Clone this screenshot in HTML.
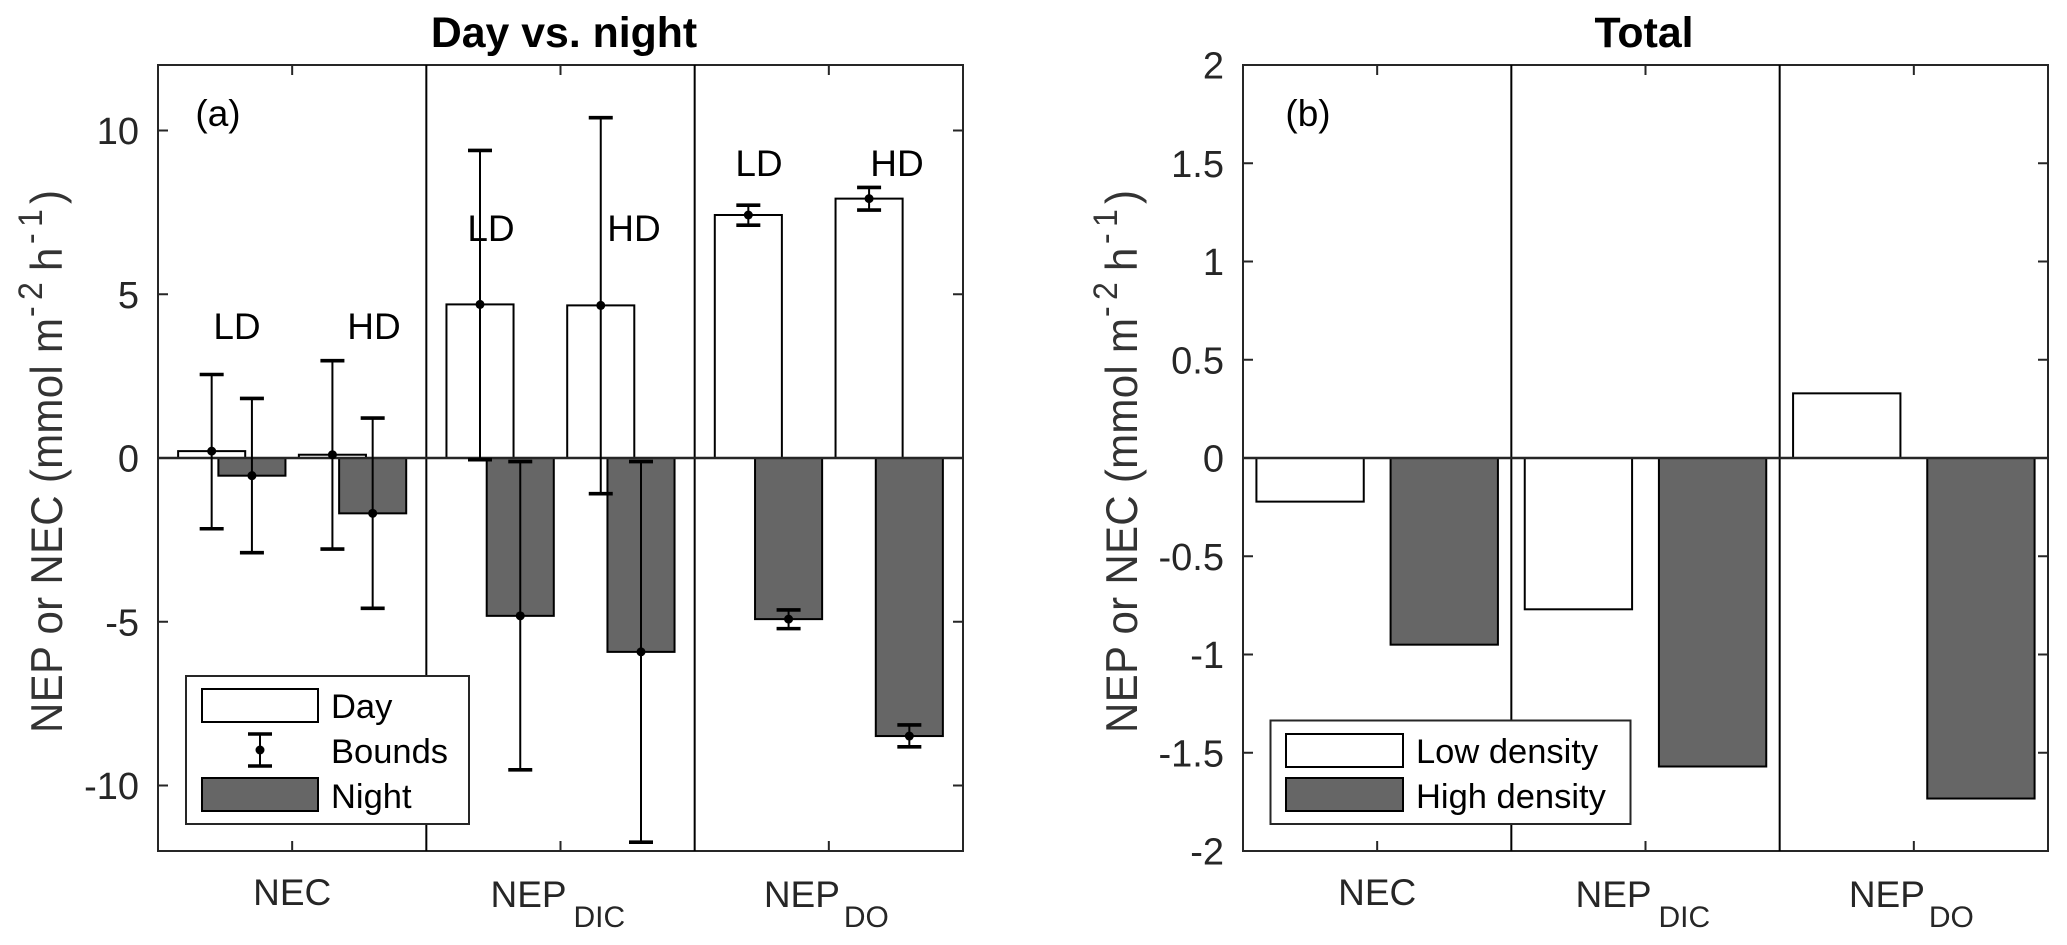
<!DOCTYPE html>
<html lang="en">
<head>
<meta charset="utf-8">
<title>Day vs. night and Total NEP/NEC</title>
<style>
html,body{margin:0;padding:0;background:#fff;width:2067px;height:945px;overflow:hidden}
svg{display:block}
text{font-family:"Liberation Sans",Arial,sans-serif}
</style>
</head>
<body>
<svg id="chart" xmlns="http://www.w3.org/2000/svg" width="2067" height="945" viewBox="0 0 2067 945"></svg>
<script>
// Shared categories
const categories = ["NEC", "NEP", "NEP"];
const categorySubs = ["", "DIC", "DO"];

// Panel (a): day/night bars, LD then HD in each category
const dayValues = [[0.21, 0.10], [4.69, 4.66], [7.42, 7.92]];
const dayUpper = [[2.55, 2.97], [9.39, 10.39], [7.72, 8.26]];
const dayLower = [[-2.16, -2.78], [-0.05, -1.09], [7.11, 7.57]];
const nightValues = [[-0.54, -1.69], [-4.82, -5.92], [-4.92, -8.49]];
const nightUpper = [[1.82, 1.22], [-0.11, -0.11], [-4.64, -8.15]];
const nightLower = [[-2.89, -4.59], [-9.52, -11.73], [-5.21, -8.82]];
const aTicks = [-10, -5, 0, 5, 10];
const aTickLabels = ["-10", "-5", "0", "5", "10"];
const aDomain = [-12, 12];

// Panel (b): totals
const lowDensity = [-0.222, -0.77, 0.329];
const highDensity = [-0.95, -1.57, -1.733];
const bTicks = [-2, -1.5, -1, -0.5, 0, 0.5, 1, 1.5, 2];
const bTickLabels = ["-2", "-1.5", "-1", "-0.5", "0", "0.5", "1", "1.5", "2"];
const bDomain = [-2, 2];

const NS = "http://www.w3.org/2000/svg";
const svg = document.getElementById("chart");
const AXIS = "#262626";

function mk(tag, attrs, parent) {
  const n = document.createElementNS(NS, tag);
  for (const k in attrs) n.setAttribute(k, attrs[k]);
  (parent || svg).appendChild(n);
  return n;
}
function linear(d0, d1, r0, r1) {
  return v => r0 + (v - d0) * (r1 - r0) / (d1 - d0);
}
const TOP = 65, BOTTOM = 851;

function drawAxes(panel, left, right, sy, ticks, labels) {
  const sx = linear(0.5, 3.5, left, right);
  let el;
  // axis frame
  el = mk("rect", {x: left, y: TOP, width: right - left, height: BOTTOM - TOP, fill: "none", stroke: AXIS, "stroke-width": 2});
  
  
  // y ticks and labels
  ticks.forEach((t, i) => {
    const yy = sy(t);
    el = mk("path", {d: `M${left} ${yy}h10M${right} ${yy}h-10`, stroke: AXIS, "stroke-width": 2, fill: "none"});
    
    
    el = mk("text", {x: left - 19, y: yy + 13.5, "text-anchor": "end", "font-size": 38, fill: AXIS});
    el.textContent = labels[i];
    
    
  });
  // x ticks and labels
  categories.forEach((c, i) => {
    const xx = sx(i + 1);
    el = mk("path", {d: `M${xx} ${TOP}v10M${xx} ${BOTTOM}v-10`, stroke: AXIS, "stroke-width": 2, fill: "none"});
    
    
    const sub = categorySubs[i];
    el = mk("text", {x: sub ? xx - (sub === "DIC" ? 70 : 65) : xx, y: sub ? 907 : 905, "text-anchor": sub ? "start" : "middle", "font-size": 37, fill: AXIS});
    el.textContent = c;
    
    
    if (sub) {
      el = mk("text", {x: xx + (sub === "DIC" ? 13 : 15), y: 927, "font-size": 30, fill: AXIS});
      el.textContent = sub;
      
      
    }
  });
  return sx;
}

function drawSeparators(panel, sx, sy) {
  let el;
  [1.5, 2.5].forEach(v => {
    el = mk("line", {x1: sx(v), x2: sx(v), y1: TOP, y2: BOTTOM, stroke: "#000", "stroke-width": 2});
    
    
  });
  el = mk("line", {x1: sx(0.5), x2: sx(3.5), y1: sy(0), y2: sy(0), stroke: AXIS, "stroke-width": 2.4});
  
  
}

function drawBar(name, cx, w, v, sy, fill) {
  const y0 = sy(0), y1 = sy(v);
  const el = mk("rect", {x: cx - w / 2, y: Math.min(y0, y1), width: w, height: Math.abs(y1 - y0), fill: fill, stroke: "#000", "stroke-width": 2});
  
  
}

function drawError(name, cx, up, lo, v, sy) {
  const g = mk("g", {});
  
  
  const capW = 24;
  mk("line", {x1: cx, x2: cx, y1: sy(up), y2: sy(lo), stroke: "#000", "stroke-width": 2}, g);
  mk("line", {x1: cx - capW / 2, x2: cx + capW / 2, y1: sy(up), y2: sy(up), stroke: "#000", "stroke-width": 3.6}, g);
  mk("line", {x1: cx - capW / 2, x2: cx + capW / 2, y1: sy(lo), y2: sy(lo), stroke: "#000", "stroke-width": 3.6}, g);
  mk("circle", {cx: cx, cy: sy(v), r: 4.5, fill: "#000"}, g);
}

function drawYLabel(name, bx) {
  const el = mk("text", {transform: `translate(${bx} 730) rotate(-90) scale(1 1.06)`, "font-size": 42, fill: "#333"});
  
  
  mk("tspan", {x: -3, "letter-spacing": 0.3}, el).textContent = "NEP or NEC (mmol m";
  mk("tspan", {"font-size": 32, x: 413, dy: -19}, el).textContent = "-";
  mk("tspan", {"font-size": 32, x: 430}, el).textContent = "2";
  mk("tspan", {x: 459, dy: 19}, el).textContent = "h";
  mk("tspan", {"font-size": 32, x: 486, dy: -19}, el).textContent = "-";
  mk("tspan", {"font-size": 32, x: 503}, el).textContent = "1";
  mk("tspan", {x: 526, dy: 19}, el).textContent = ")";
}

function drawTitle(name, x, label) {
  const el = mk("text", {x: x, y: 47, "text-anchor": "middle", "font-size": 42.8, "font-weight": "bold", fill: "#000"});
  el.textContent = label;
  
  
}

function drawNote(name, x, y, label) {
  const el = mk("text", {x: x, y: y, "text-anchor": "middle", "font-size": 37, fill: "#000"});
  el.textContent = label;
  
  
}

function legendBox(name, x, y, w, h) {
  const el = mk("rect", {x: x, y: y, width: w, height: h, fill: "#fff", stroke: AXIS, "stroke-width": 2});
  
  
}
function legendPatch(name, x, y, w, h, fill) {
  const el = mk("rect", {x: x, y: y, width: w, height: h, fill: fill, stroke: "#000", "stroke-width": 2});
  
  
}
function legendText(name, x, y, label) {
  const el = mk("text", {x: x, y: y, "font-size": 34.5, fill: "#000"});
  el.textContent = label;
  
  
}

/* ---------- Panel (a) ---------- */
const syA = linear(aDomain[0], aDomain[1], BOTTOM, TOP);
const sxA = drawAxes("panel-a", 158, 963, syA, aTicks, aTickLabels);
const barWA = 0.25;
const pxA = sxA(1) - sxA(0);
const dayOffsets = [-0.3, 0.15];
const nightOffsets = [-0.15, 0.3];
categories.forEach((c, i) => {
  [0, 1].forEach(j => {
    drawBar("day-bar", sxA(i + 1 + dayOffsets[j]), barWA * pxA, dayValues[i][j], syA, "#fff");
    drawBar("night-bar", sxA(i + 1 + nightOffsets[j]), barWA * pxA, nightValues[i][j], syA, "#666");
  });
});
drawSeparators("panel-a", sxA, syA);
categories.forEach((c, i) => {
  [0, 1].forEach(j => {
    drawError("day-error-bar", sxA(i + 1 + dayOffsets[j]), dayUpper[i][j], dayLower[i][j], dayValues[i][j], syA);
    drawError("night-error-bar", sxA(i + 1 + nightOffsets[j]), nightUpper[i][j], nightLower[i][j], nightValues[i][j], syA);
  });
});
drawNote("ld-label-nec", 237, 339, "LD");
drawNote("hd-label-nec", 374, 339, "HD");
drawNote("ld-label-dic", 491, 241, "LD");
drawNote("hd-label-dic", 634, 241, "HD");
drawNote("ld-label-do", 759, 176, "LD");
drawNote("hd-label-do", 897, 176, "HD");
drawNote("panel-a-letter", 218, 126, "(a)");
drawYLabel("panel-a-y-axis-title", 62);
drawTitle("panel-a-title", 564, "Day vs. night");

legendBox("panel-a-legend-box", 186, 676, 283, 148);
legendPatch("legend-day-swatch", 202, 689, 116, 33, "#fff");
legendText("legend-day-label", 331, 718, "Day");
const legendMarker = mk("g", {});


mk("line", {x1: 260, x2: 260, y1: 734, y2: 766, stroke: "#000", "stroke-width": 2}, legendMarker);
mk("line", {x1: 248, x2: 272, y1: 734, y2: 734, stroke: "#000", "stroke-width": 3.6}, legendMarker);
mk("line", {x1: 248, x2: 272, y1: 766, y2: 766, stroke: "#000", "stroke-width": 3.6}, legendMarker);
mk("circle", {cx: 260, cy: 750, r: 4.5, fill: "#000"}, legendMarker);
legendText("legend-bounds-label", 331, 763, "Bounds");
legendPatch("legend-night-swatch", 202, 778, 116, 33, "#666");
legendText("legend-night-label", 331, 808, "Night");

/* ---------- Panel (b) ---------- */
const syB = linear(bDomain[0], bDomain[1], BOTTOM, TOP);
const sxB = drawAxes("panel-b", 1243, 2048, syB, bTicks, bTickLabels);
const pxB = sxB(1) - sxB(0);
categories.forEach((c, i) => {
  drawBar("low-density-bar", sxB(i + 1 - 0.25), 0.4 * pxB, lowDensity[i], syB, "#fff");
  drawBar("high-density-bar", sxB(i + 1 + 0.25), 0.4 * pxB, highDensity[i], syB, "#666");
});
drawSeparators("panel-b", sxB, syB);
drawNote("panel-b-letter", 1308, 126, "(b)");
drawYLabel("panel-b-y-axis-title", 1137);
drawTitle("panel-b-title", 1644, "Total");

legendBox("panel-b-legend-box", 1270.5, 720.5, 360, 103.5);
legendPatch("legend-low-density-swatch", 1286, 734, 117, 33, "#fff");
legendText("legend-low-density-label", 1416, 763, "Low density");
legendPatch("legend-high-density-swatch", 1286, 778, 117, 33, "#666");
legendText("legend-high-density-label", 1416, 808, "High density");
</script>
</body>
</html>
